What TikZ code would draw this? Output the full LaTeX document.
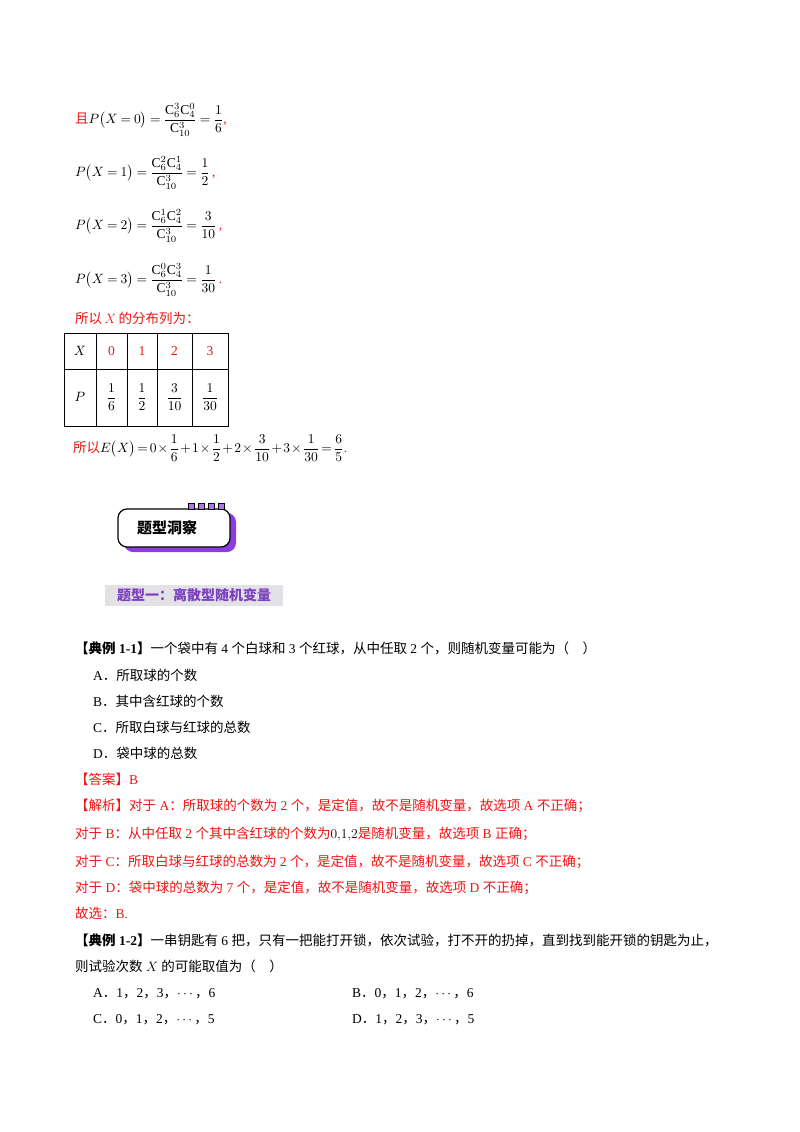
\RequirePackage{fix-cm}
\documentclass[tikz,border=0pt]{standalone}
\usepackage{amsmath}
\usepackage{graphicx}
\usepackage{fontspec}
\setmainfont{Liberation Serif}
\newfontfamily\cjk{Noto Sans CJK SC}
\newcommand{\cjkb}{\cjk\bfseries}
\usetikzlibrary{calc}
\definecolor{rd}{RGB}{240,20,20}
\definecolor{pu}{RGB}{140,60,225}
\definecolor{pt}{RGB}{125,65,190}
\definecolor{gb}{RGB}{225,225,230}
\newcommand{\zh}[1]{{\cjk #1}}
\newcommand{\mbig}[1]{\scalebox{1.35}{\medmuskip=3mu\thickmuskip=4mu #1}}
\tikzset{
 txt/.style={anchor=west,inner sep=0pt,font=\fontsize{13.5}{16}\selectfont},
 red/.style={txt,text=rd},
 mth/.style={anchor=west,inner sep=0pt,font=\fontsize{10}{12}\selectfont},
 cell/.style={inner sep=0pt,font=\fontsize{10}{12}\selectfont}
}
\begin{document}
\begin{tikzpicture}[x=1pt,y=-1pt]
\useasboundingbox (0,0) rectangle (800,1132);
\fill[white] (0,0) rectangle (800,1132);
% formulas
\node[mth] (f0) at (75,120) {\mbig{\textcolor{rd}{\zh{且}}$P\bigl(X=0\bigr)=\dfrac{\mathrm{C}_6^3\mathrm{C}_4^0}{\mathrm{C}_{10}^3}=\dfrac{1}{6}$\textcolor{rd}{,}}};
\node[mth] (f1) at (75,173) {\mbig{$P\bigl(X=1\bigr)=\dfrac{\mathrm{C}_6^2\mathrm{C}_4^1}{\mathrm{C}_{10}^3}=\dfrac{1}{2}$\,\textcolor{rd}{,}}};
\node[mth] (f2) at (75,226) {\mbig{$P\bigl(X=2\bigr)=\dfrac{\mathrm{C}_6^1\mathrm{C}_4^2}{\mathrm{C}_{10}^3}=\dfrac{3}{10}$\,\textcolor{rd}{,}}};
\node[mth] (f3) at (75,280) {\mbig{$P\bigl(X=3\bigr)=\dfrac{\mathrm{C}_6^0\mathrm{C}_4^3}{\mathrm{C}_{10}^3}=\dfrac{1}{30}$\,\textcolor{rd}{.}}};
\node[red] (d) at (75,318) {\zh{所以}\,$X$\,\zh{的分布列为：}};
% table
\draw[line width=0.9pt] (64,333) rectangle (228,426);
\draw[line width=0.9pt] (64,369) -- (228,369);
\foreach \x in {96,127,157,192} \draw[line width=0.9pt] (\x,333) -- (\x,426);
\node[cell] (hx) at (80,351) {\mbig{$X$}};
\node[cell,text=rd] (h0) at (111.5,351) {\mbig{0}};
\node[cell,text=rd] (h1) at (142,351) {\mbig{1}};
\node[cell,text=rd] (h2) at (174.5,351) {\mbig{2}};
\node[cell,text=rd] (h3) at (210,351) {\mbig{3}};
\node[cell] (hp) at (80,397) {\mbig{$P$}};
\node[cell] (p0) at (111.5,397) {\mbig{$\dfrac{1}{6}$}};
\node[cell] (p1) at (142,397) {\mbig{$\dfrac{1}{2}$}};
\node[cell] (p2) at (174.5,397) {\mbig{$\dfrac{3}{10}$}};
\node[cell] (p3) at (210,397) {\mbig{$\dfrac{1}{30}$}};
\node[mth] (e) at (73,448) {\scalebox{1.35}{\medmuskip=1.5mu\thickmuskip=2.5mu\textcolor{rd}{\zh{所以}}$E\bigl(X\bigr)=0\times\dfrac{1}{6}+1\times\dfrac{1}{2}+2\times\dfrac{3}{10}+3\times\dfrac{1}{30}=\dfrac{6}{5}$\textcolor{rd}{.}}};
% badge
\fill[pu,rounded corners=9pt] (124,513) rectangle (236,552);
\draw[line width=1.2pt,fill=white,rounded corners=9pt] (118,509) rectangle (230,547);
\foreach \x in {188,198,208,218} \draw[fill=pu!70,line width=1pt] (\x,503) rectangle (\x+6,509);
\node[inner sep=0pt,font=\cjkb\fontsize{15}{17}\selectfont] (bt) at (167,528) {题型洞察};
% heading
\fill[gb] (105,585) rectangle (283,606);
\node[inner sep=0pt,text=pt,font=\cjkb\fontsize{14}{16}\selectfont] (hd) at (194,595.5) {题型一：离散型随机变量};
% body
\node[txt] (l1) at (75,648) {{\cjkb 【典例} \textbf{1-1}{\cjkb 】}\zh{一个袋中有} 4 \zh{个白球和} 3 \zh{个红球，从中任取} 2 \zh{个，则随机变量可能为（\quad）}};
\node[txt] (a1) at (93,675) {A\zh{．所取球的个数}};
\node[txt] (b1) at (93,701) {B\zh{．其中含红球的个数}};
\node[txt] (c1) at (93,727) {C\zh{．所取白球与红球的总数}};
\node[txt] (d1) at (93,753) {D\zh{．袋中球的总数}};
\node[red] (ans) at (75,779) {\zh{【答案】}B};
\node[red] (j1) at (75,806) {\zh{【解析】对于} A\zh{：所取球的个数为} 2 \zh{个，是定值，故不是随机变量，故选项} A \zh{不正确；}};
\node[red] (j2) at (75,834) {\zh{对于} B\zh{：从中任取} 2 \zh{个其中含红球的个数为}\textcolor{black}{$0{,}1{,}2$}\zh{是随机变量，故选项} B \zh{正确；}};
\node[red] (j3) at (75,862) {\zh{对于} C\zh{：所取白球与红球的总数为} 2 \zh{个，是定值，故不是随机变量，故选项} C \zh{不正确；}};
\node[red] (j4) at (75,888) {\zh{对于} D\zh{：袋中球的总数为} 7 \zh{个，是定值，故不是随机变量，故选项} D \zh{不正确；}};
\node[red] (j5) at (75,913) {\zh{故选：}B.};
\node[txt] (l2) at (75,940) {{\cjkb 【典例} \textbf{1-2}{\cjkb 】}\zh{一串钥匙有} 6 \zh{把，只有一把能打开锁，依次试验，打不开的扔掉，直到找到能开锁的钥匙为止，}};
\node[txt] (l2b) at (75,966) {\zh{则试验次数} $X$ \zh{的可能取值为（\quad）}};
\node[txt] (a2) at (93,994) {A\zh{．}1\zh{，}2\zh{，}3\zh{，}$\cdots$\zh{，}6};
\node[txt] (b2) at (352,994) {B\zh{．}0\zh{，}1\zh{，}2\zh{，}$\cdots$\zh{，}6};
\node[txt] (c2) at (93,1020) {C\zh{．}0\zh{，}1\zh{，}2\zh{，}$\cdots$\zh{，}5};
\node[txt] (d2) at (352,1020) {D\zh{．}1\zh{，}2\zh{，}3\zh{，}$\cdots$\zh{，}5};
\end{tikzpicture}
\end{document}
